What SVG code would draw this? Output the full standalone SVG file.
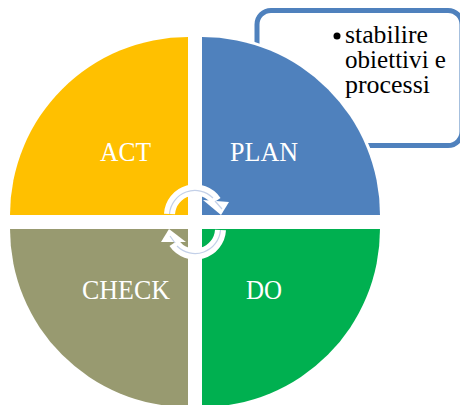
<svg xmlns="http://www.w3.org/2000/svg" width="460" height="405" viewBox="0 0 460 405">
<style>
.lbl{font-family:"Liberation Serif",serif;font-size:28px;fill:#fff}
.txt{font-family:"Liberation Serif",serif;font-size:25px;fill:#000}
.ring{fill:none;stroke:#fff;stroke-width:11}
.head{fill:#fff}
.mid{fill:none;stroke:#c3d0e8;stroke-width:1.2}
</style>
<rect width="460" height="405" fill="#fff"/>
<g id="callout">
<rect x="257" y="10.500" width="205" height="135" rx="14" fill="#fff" stroke="#4f81bd" stroke-width="5"/>
<circle cx="337" cy="36" r="3.500" fill="#000"/>
<text class="txt" x="345" y="43" textLength="83" lengthAdjust="spacingAndGlyphs">stabilire</text>
<text class="txt" x="345" y="68" textLength="101" lengthAdjust="spacingAndGlyphs">obiettivi e</text>
<text class="txt" x="345" y="93" textLength="85" lengthAdjust="spacingAndGlyphs">processi</text>
</g>
<g id="plan">
<path d="M202 215V37A178 178 0 0 1 380 215Z" fill="#4f81bd" stroke="#fff" stroke-width="6" paint-order="stroke" stroke-linejoin="miter"/>
<text class="lbl" x="230" y="161" textLength="68" lengthAdjust="spacingAndGlyphs">PLAN</text>
</g>
<g id="act">
<path d="M188 215V37A178 178 0 0 0 10 215Z" fill="#ffc000"/>
<text class="lbl" x="100" y="161" textLength="51" lengthAdjust="spacingAndGlyphs">ACT</text>
</g>
<g id="check">
<path d="M188 229V407A178 178 0 0 1 10 229Z" fill="#989a70"/>
<text class="lbl" x="82" y="299" textLength="88" lengthAdjust="spacingAndGlyphs">CHECK</text>
</g>
<g id="do">
<path d="M202 229V407A178 178 0 0 0 380 229Z" fill="#00b050"/>
<text class="lbl" x="246" y="299" textLength="36" lengthAdjust="spacingAndGlyphs">DO</text>
</g>
<g id="connectors">
<path class="ring" d="M169.500 214A25.500 25.500 0 0 1 216 201"/>
<polygon class="head" points="203,200 229,202 221,215"/>
<path class="mid" d="M169.500 214A25.500 25.500 0 0 1 213 198M215 201L222 209"/>
<path class="ring" d="M220.500 230A25.500 25.500 0 0 1 174 243"/>
<polygon class="head" points="186,242 161,242 169,229"/>
<path class="mid" d="M220.500 230A25.500 25.500 0 0 1 177 246M175 243L170 236"/>
</g>
</svg>
